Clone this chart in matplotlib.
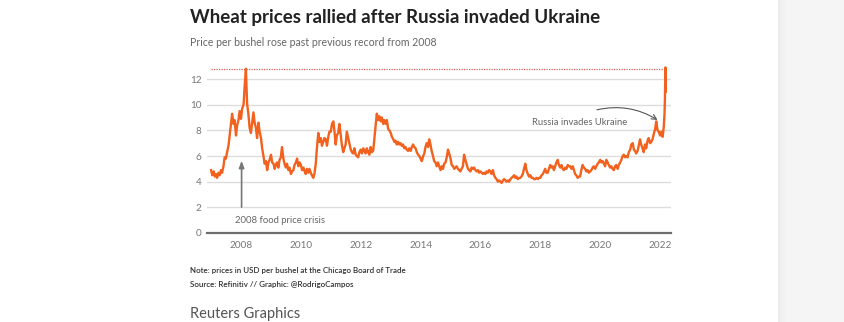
import matplotlib
matplotlib.use("Agg")
import matplotlib.pyplot as plt
import matplotlib.dates as mdates
from matplotlib.patches import Rectangle
import pandas as pd

# ==========================================================
# DATA  (CBOT wheat, USD per bushel)
# ==========================================================
# semi-monthly readings (1st and 15th of each month), one row per year
w2007 = [4.9, 4.5, 4.8, 4.4, 4.6, 4.3, 4.7, 4.5, 4.9, 4.7, 5.2, 5.9,
         5.8, 6.3, 6.8, 7.6, 8.6, 9.3, 8.5, 8.8, 7.6, 8.4, 8.8, 9.5]
w2008 = [8.9, 9.7, 10.0, 11.5, 12.8, 10.1, 9.2, 8.2, 7.8, 8.5, 9.4, 8.6,
         8.2, 7.4, 8.6, 7.9, 7.4, 6.6, 6.0, 5.4, 5.6, 4.9, 5.5, 5.7]
w2009 = [6.1, 5.5, 5.4, 5.0, 5.3, 5.5, 5.1, 5.7, 5.9, 6.7, 5.8, 5.4,
         5.1, 5.4, 4.9, 5.1, 4.6, 4.8, 4.9, 5.3, 5.5, 5.8, 5.2, 5.5]
w2010 = [5.3, 4.9, 5.1, 4.8, 4.6, 5.0, 4.7, 5.0, 4.7, 4.5, 4.3, 4.6,
         5.4, 6.6, 7.8, 7.1, 7.4, 6.8, 7.1, 7.4, 7.3, 6.8, 7.5, 7.9]
w2011 = [7.9, 8.5, 8.7, 7.9, 6.9, 7.6, 7.8, 8.5, 7.7, 6.9, 6.3, 6.6,
         6.9, 7.9, 7.4, 7.0, 6.5, 6.3, 6.2, 6.6, 6.1, 6.0, 5.9, 6.3]
w2012 = [6.5, 6.2, 6.6, 6.4, 6.2, 6.6, 6.3, 6.1, 6.7, 6.3, 6.4, 7.3,
         8.4, 9.3, 8.8, 9.1, 8.7, 9.0, 8.5, 8.8, 8.5, 8.8, 8.1, 8.0]
w2013 = [7.8, 7.5, 7.3, 7.1, 7.2, 6.9, 7.1, 6.9, 7.0, 6.8, 6.9, 6.6,
         6.7, 6.5, 6.4, 6.6, 6.4, 6.7, 6.9, 6.7, 6.6, 6.3, 6.1, 6.0]
w2014 = [5.8, 5.6, 6.0, 6.2, 6.7, 7.0, 6.7, 7.3, 6.9, 6.4, 6.0, 5.6,
         5.5, 5.2, 5.5, 5.2, 4.9, 5.2, 5.0, 5.4, 5.5, 5.9, 6.5, 6.2]
w2015 = [5.8, 5.3, 5.2, 5.0, 5.1, 5.2, 5.0, 4.9, 4.8, 5.0, 5.2, 6.1,
         5.7, 5.4, 5.0, 4.9, 4.8, 5.1, 5.0, 5.1, 4.9, 4.8, 4.9, 4.7]
w2016 = [4.8, 4.7, 4.6, 4.7, 4.6, 4.8, 4.7, 4.9, 4.8, 4.6, 4.9, 4.5,
         4.3, 4.2, 4.0, 4.1, 4.0, 3.9, 4.1, 4.2, 4.1, 4.0, 4.1, 4.0]
w2017 = [4.2, 4.3, 4.4, 4.5, 4.3, 4.4, 4.2, 4.3, 4.3, 4.4, 4.6, 5.0,
         5.4, 4.9, 4.6, 4.4, 4.5, 4.3, 4.3, 4.2, 4.2, 4.3, 4.2, 4.3]
w2018 = [4.3, 4.5, 4.6, 4.8, 5.0, 4.7, 4.7, 5.0, 5.3, 5.1, 5.2, 4.9,
         5.2, 5.5, 5.7, 5.3, 5.1, 5.3, 5.0, 4.9, 5.1, 5.0, 5.3, 5.2]
w2019 = [5.2, 5.0, 5.2, 4.9, 4.6, 4.5, 4.3, 4.4, 4.4, 4.9, 5.3, 5.1,
         5.0, 4.8, 4.9, 4.7, 4.8, 4.9, 5.1, 5.2, 5.0, 5.2, 5.4, 5.5]
w2020 = [5.7, 5.5, 5.6, 5.4, 5.2, 5.7, 5.5, 5.3, 5.1, 5.2, 5.0, 4.9,
         5.2, 5.3, 5.0, 5.3, 5.5, 5.7, 6.0, 6.1, 5.9, 6.0, 5.9, 6.3]
w2021 = [6.5, 6.9, 7.0, 6.5, 6.4, 6.2, 6.4, 6.8, 7.3, 6.9, 6.6, 6.3,
         6.9, 6.6, 7.2, 7.4, 7.0, 7.1, 7.3, 7.7, 8.1, 8.7, 8.0, 7.9]
w2022 = [7.6, 7.9, 7.5]

# the invasion spike, daily readings
spike_dates = ["2022-02-15", "2022-02-24", "2022-03-01", "2022-03-04",
               "2022-03-07", "2022-03-09"]
spike_values = [8.3, 9.3, 10.5, 12.0, 12.9, 11.0]

record_2008 = 12.8
yticks = [0, 2, 4, 6, 8, 10, 12]
xtick_years = [2008, 2010, 2012, 2014, 2016, 2018, 2020, 2022]

title = "Wheat prices rallied after Russia invaded Ukraine"
subtitle = "Price per bushel rose past previous record from 2008"
note = "Note: prices in USD per bushel at the Chicago Board of Trade"
source = "Source: Refinitiv // Graphic: @RodrigoCampos"

# ==========================================================
# BUILD SERIES
# ==========================================================
semi = (w2007 + w2008 + w2009 + w2010 + w2011 + w2012 + w2013 + w2014 +
        w2015 + w2016 + w2017 + w2018 + w2019 + w2020 + w2021 + w2022)
semi_dates = pd.date_range("2007-01-01", periods=len(semi), freq="SMS")
dates = list(semi_dates) + list(pd.to_datetime(spike_dates))
prices = semi + spike_values

# ==========================================================
# PLOT
# ==========================================================
plt.rcParams["font.family"] = ["Lato", "DejaVu Sans"]

fig = plt.figure(figsize=(8.45, 3.22), dpi=100)
fig.patch.set_facecolor("white")

# light side panel on the right, with a soft edge
fig.patches.append(Rectangle((778 / 845, 0), 67 / 845, 1, transform=fig.transFigure,
                             facecolor="#f5f5f5", edgecolor="none", zorder=0))
for i, c in enumerate(["#ececec", "#efefef", "#f1f1f1", "#f3f3f3"]):
    fig.patches.append(Rectangle(((778 + 2 * i) / 845, 0), 2 / 845, 1,
                                 transform=fig.transFigure, facecolor=c,
                                 edgecolor="none", zorder=0))

ax = fig.add_axes([207 / 845, 1 - 233 / 322, 464 / 845, (233 - 66.2) / 322])
ax.patch.set_alpha(0)

ax.plot(dates, prices, color="#f2611d", lw=1.7, solid_joinstyle="round", zorder=3)

# previous record line
ax.plot([dates[0], pd.Timestamp("2022-03-07")], [record_2008, record_2008],
        color="#e35b5b", lw=0.9, ls=(0, (1, 1)), zorder=2)

ax.set_xlim(pd.Timestamp("2006-11-12"), pd.Timestamp("2022-05-14"))
ax.set_ylim(0, 13.0)
ax.set_yticks(yticks)
ax.set_xticks([pd.Timestamp(f"{y}-01-01") for y in xtick_years])
ax.xaxis.set_major_formatter(mdates.DateFormatter("%Y"))

ax.grid(axis="y", color="#dddddd", lw=1, zorder=0)
ax.grid(axis="x", visible=False)
for s in ["top", "right", "left"]:
    ax.spines[s].set_visible(False)
ax.spines["bottom"].set_color("#6e6e6e")
ax.spines["bottom"].set_linewidth(1.6)
ax.spines["bottom"].set_zorder(4)
ax.tick_params(axis="both", length=0, labelsize=7.2, labelcolor="#777777")
ax.tick_params(axis="x", pad=6)
ax.tick_params(axis="y", pad=4)

# annotations
ax.annotate("", xy=(pd.Timestamp("2008-01-08"), 5.85),
            xytext=(pd.Timestamp("2008-01-08"), 1.8),
            arrowprops=dict(arrowstyle="-|>,head_length=0.4,head_width=0.15",
                            color="#777777", lw=1.2))
ax.text(pd.Timestamp("2007-10-20"), 1.0, "2008 food price crisis",
        fontsize=6.8, color="#666666", va="center", ha="left")

ax.annotate("", xy=(pd.Timestamp("2021-12-28"), 8.7),
            xytext=(pd.Timestamp("2019-10-20"), 9.55),
            arrowprops=dict(arrowstyle="->,head_length=0.35,head_width=0.18",
                            color="#555555", lw=0.8,
                            connectionstyle="arc3,rad=-0.22"))
ax.text(pd.Timestamp("2017-09-20"), 8.65, "Russia invades Ukraine",
        fontsize=6.8, color="#666666", va="center", ha="left")

# titles and footer
fig.text(190 / 845, 1 - 17 / 322, title, fontsize=13.5, fontweight="bold",
         color="#222222", va="center", ha="left")
fig.text(190 / 845, 1 - 43 / 322, subtitle, fontsize=7.6, color="#666666",
         va="center", ha="left")
fig.text(190 / 845, 1 - 271 / 322, note, fontsize=5.75, color="#333333",
         fontweight="semibold", va="center", ha="left")
fig.text(190 / 845, 1 - 284 / 322, source, fontsize=5.75, color="#333333",
         fontweight="semibold", va="center", ha="left")
fig.text(190 / 845, 1 - 314 / 322, "Reuters Graphics", fontsize=10.5,
         color="#555555", va="center", ha="left")

fig.savefig("out.png", dpi=100)
